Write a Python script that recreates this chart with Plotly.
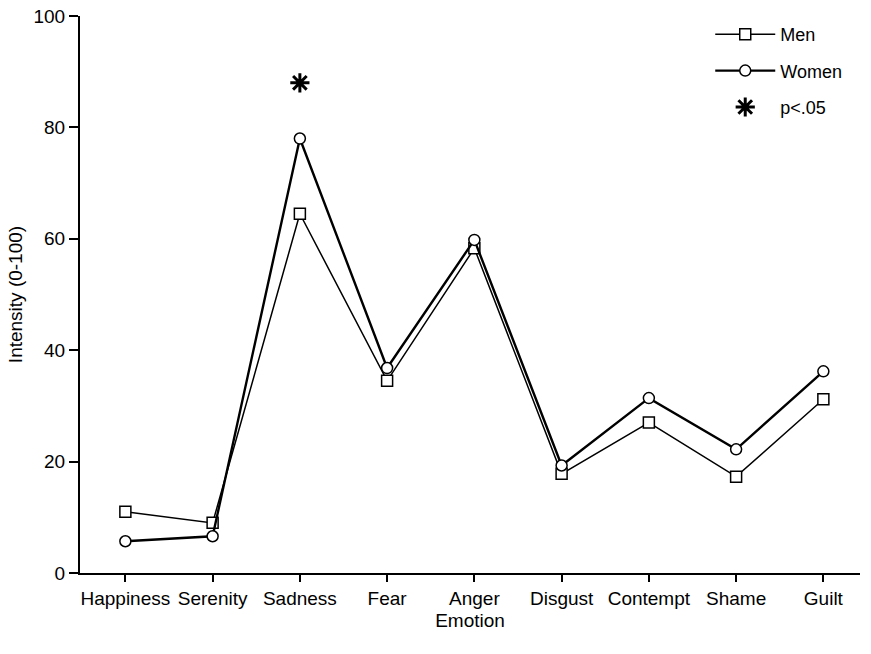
import plotly.graph_objects as go

emotions = ["Happiness", "Serenity", "Sadness", "Fear", "Anger",
            "Disgust", "Contempt", "Shame", "Guilt"]
men = [11.0, 9.0, 64.5, 34.5, 58.3, 17.8, 27.0, 17.3, 31.2]
women = [5.7, 6.6, 78.0, 36.8, 59.8, 19.3, 31.4, 22.2, 36.2]
sig_emotions = ["Sadness"]
sig_values = [88.0]
y_ticks = [0, 20, 40, 60, 80, 100]

FONT = "Liberation Sans, Arial, sans-serif"

fig = go.Figure()
fig.add_trace(go.Scatter(
    x=emotions, y=men, name="Men", mode="lines+markers",
    legendgroup="a",
    line=dict(color="black", width=1.5),
    marker=dict(symbol="square", size=11, color="white",
                line=dict(color="black", width=1.5)),
))
fig.add_trace(go.Scatter(
    x=emotions, y=women, name="Women", mode="lines+markers",
    legendgroup="b",
    line=dict(color="black", width=2.4),
    marker=dict(symbol="circle", size=11, color="white",
                line=dict(color="black", width=1.5)),
))
fig.add_trace(go.Scatter(
    x=sig_emotions, y=sig_values, name="p<.05", mode="markers",
    legendgroup="c",
    marker=dict(symbol="asterisk-open", size=16, color="black",
                line=dict(color="black", width=3)),
))

fig.update_layout(
    width=871, height=654,
    margin=dict(l=80, r=11, t=16, b=81),
    paper_bgcolor="white", plot_bgcolor="white",
    font=dict(family=FONT, size=19, color="black"),
    showlegend=True,
    legend=dict(x=0.808, y=1.0, xanchor="left", yanchor="top",
                bgcolor="rgba(0,0,0,0)", font=dict(size=18, family=FONT),
                tracegroupgap=10, itemwidth=60),
    xaxis=dict(
        type="category", categoryorder="array", categoryarray=emotions,
        range=[-0.52, 8.42], automargin=False,
        showline=True, linecolor="black", linewidth=2,
        ticks="outside", ticklen=7, tickwidth=2, tickcolor="black",
        showgrid=False, zeroline=False,
        title=dict(text="Emotion", standoff=6, font=dict(size=19)),
        tickfont=dict(size=19),
    ),
    yaxis=dict(
        range=[0, 100], tickvals=y_ticks, automargin=False,
        showline=True, linecolor="black", linewidth=2,
        ticks="outside", ticklen=9, tickwidth=2, tickcolor="black",
        showgrid=False, zeroline=False,
        title=dict(text="Intensity (0-100)", standoff=6, font=dict(size=19)),
        tickfont=dict(size=19),
    ),
)

fig.write_html("out.html",
               config={"displayModeBar": False},
               post_script="document.body.style.margin='0';")
